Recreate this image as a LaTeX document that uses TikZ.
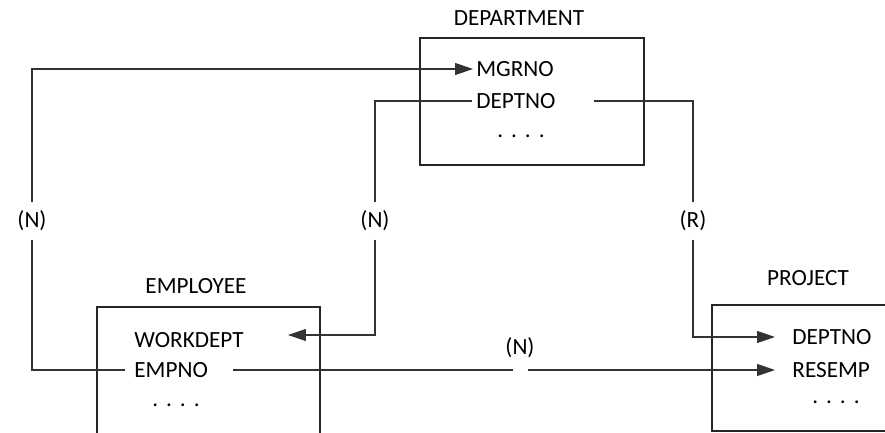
\documentclass[tikz,border=0pt]{standalone}
\usepackage{fontspec}
\setmainfont{Carlito}
\usetikzlibrary{arrows.meta,positioning}
\newcommand{\fielddots}{.\hspace{4pt}.\hspace{4pt}.\hspace{4pt}.}
\begin{document}
\begin{tikzpicture}[x=0.5pt,y=-0.5pt,
    font=\fontsize{11.6}{14}\selectfont,
    box/.style={draw=black!85, line width=0.6pt, rectangle, inner sep=0pt},
    field/.style={anchor=west, inner sep=0pt},
    title/.style={inner sep=0pt},
    tag/.style={inner sep=0pt, minimum height=18.5pt},
    conn/.style={draw=black!80, line width=0.6pt},
    arr/.style={conn, -{Triangle[length=9pt,width=6pt]}}]

\useasboundingbox (0,0) rectangle (885,433);
\clip (0,0) rectangle (885,433);

% tables
\node[box, minimum width=112pt, minimum height=63.5pt]   (dept) at (532,101.5) {};
\node[box, minimum width=111.5pt, minimum height=86.5pt] (emp)  at (208.5,393.5) {};
\node[box, minimum width=124pt, minimum height=63pt]     (proj) at (836,368) {};

% table names
\node[title] (deptname) at (519,18.5) {DEPARTMENT};
\node[title] (empname)  at (196,286)  {EMPLOYEE};
\node[title] (projname) at (808,278)  {PROJECT};

% columns
\node[field] (mgrno)    at (476,69)  {MGRNO};
\node[field] (deptno)   at (476,101) {DEPTNO};
\node[title] (deptmore) at (521,136) {\fielddots};

\node[field] (workdept) at (134,340) {WORKDEPT};
\node[field] (empno)    at (134,370) {EMPNO};
\node[title] (empmore)  at (176,405) {\fielddots};

\node[field] (pdeptno)  at (792,337) {DEPTNO};
\node[field] (resemp)   at (792,370) {RESEMP};
\node[title] (projmore) at (836,402) {\fielddots};

% delete rules
\node[tag] (na) at (32,221)  {(N)};
\node[tag] (nb) at (375,221) {(N)};
\node[tag] (nr) at (693,221) {(R)};
\node[tag] (nc) at (520,348) {(N)};
\coordinate (hopl) at (513,370);
\coordinate (hopr) at (528,370);

% connectors
\draw[conn] ([xshift=-4.5pt]empno.west) -| (na);
\draw[arr]  (na) |- ([xshift=-1.5pt]mgrno.west);

\draw[conn] ([xshift=-2pt]deptno.west) -| (nb);
\draw[arr]  (nb) |- ([xshift=22pt,yshift=2.5pt]workdept.east);

\draw[conn] ([xshift=19pt]deptno.east) -| (nr);
\draw[arr]  (nr) |- ([xshift=-8.5pt]pdeptno.west);

\draw[conn] ([xshift=12.5pt]empno.east) -- (hopl);
\draw[arr]  (hopr) -- ([xshift=-8.5pt]resemp.west);
\end{tikzpicture}
\end{document}
